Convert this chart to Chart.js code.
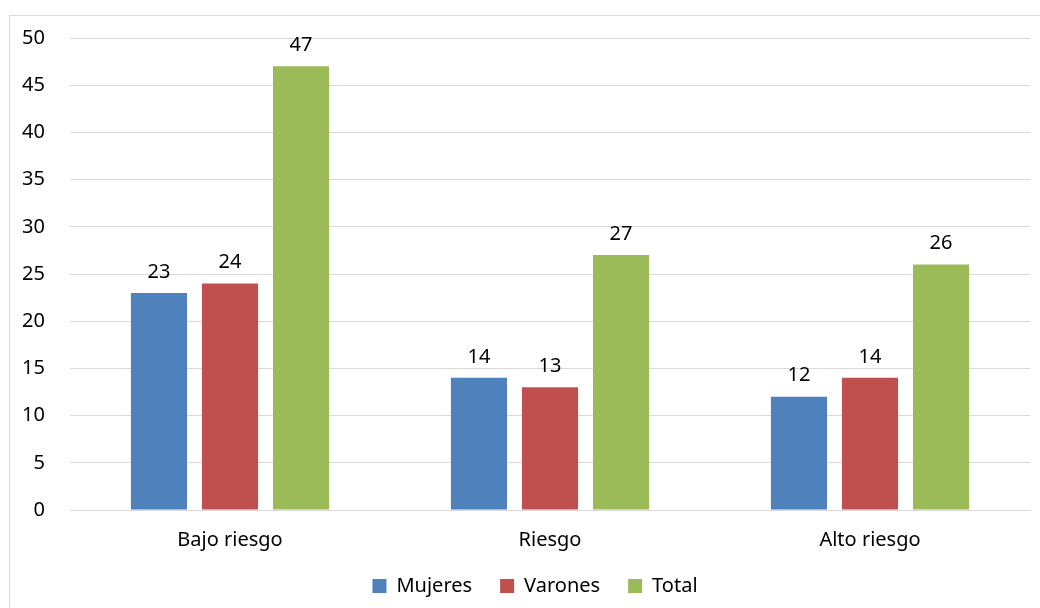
<!DOCTYPE html>
<html>
<head>
<meta charset="utf-8">
<script src="https://cdn.jsdelivr.net/npm/chart.js@4.4.0/dist/chart.umd.min.js"></script>
<style>
  html, body { margin: 0; padding: 0; background: #fff; overflow: hidden; }
  #frame { position: absolute; left: 9px; top: 15px; width: 1100px; height: 700px; border: 1px solid #d9d9d9; }
  #wrap { position: absolute; left: 0; top: 0; width: 1040px; height: 608px; }
</style>
</head>
<body>
<div id="frame"></div>
<div id="wrap"><canvas id="myChart"></canvas></div>
<script>
  const categories = ['Bajo riesgo', 'Riesgo', 'Alto riesgo'];
  const mujeres = [23, 14, 12];
  const varones = [24, 13, 14];
  const total = [47, 27, 26];

  Chart.defaults.font.family = '"Noto Sans", "Liberation Sans", sans-serif';
  Chart.defaults.font.size = 20;
  Chart.defaults.color = '#000';

  // draw the value on top of every bar
  const barValues = {
    id: 'barValues',
    afterDatasetsDraw(chart) {
      const c = chart.ctx;
      c.save();
      c.font = '20px "Noto Sans", "Liberation Sans", sans-serif';
      c.fillStyle = '#000';
      c.textAlign = 'center';
      c.textBaseline = 'bottom';
      chart.data.datasets.forEach((ds, i) => {
        chart.getDatasetMeta(i).data.forEach((bar, j) => {
          c.fillText(ds.data[j], bar.x, bar.y - 11);
        });
      });
      c.restore();
    }
  };

  // legend sits centred under the plot area, not the whole canvas
  const legendShift = {
    id: 'legendShift',
    afterLayout(chart) {
      chart.legend.left += 40;
      chart.legend.top -= 18;
      chart.legend.bottom -= 18;
    }
  };

  const ctx = document.getElementById('myChart');
  new Chart(ctx, {
    type: 'bar',
    data: {
      labels: categories,
      datasets: [
        { label: 'Mujeres', data: mujeres, backgroundColor: '#4F81BD' },
        { label: 'Varones', data: varones, backgroundColor: '#C0504D' },
        { label: 'Total', data: total, backgroundColor: '#9BBB59' }
      ]
    },
    options: {
      responsive: true,
      maintainAspectRatio: false,
      animation: false,
      datasets: {
        bar: { categoryPercentage: 0.666, barPercentage: 0.79 }
      },
      layout: { padding: { top: 38, right: 10, left: 0, bottom: -16 } },
      scales: {
        x: {
          grid: { display: false, drawTicks: false },
          border: { color: '#d9d9d9' },
          ticks: { padding: 18 },
          afterFit(scale) { scale.height = 56; }
        },
        y: {
          min: 0,
          max: 50,
          grid: { color: '#d9d9d9', drawTicks: false },
          border: { display: false },
          ticks: { stepSize: 5, padding: 25 },
          afterFit(scale) { scale.width = 70; }
        }
      },
      plugins: {
        legend: {
          position: 'bottom',
          labels: { boxWidth: 14, boxHeight: 14, padding: 28 }
        },
        tooltip: { enabled: false }
      }
    },
    plugins: [barValues, legendShift]
  });
</script>
</body>
</html>
